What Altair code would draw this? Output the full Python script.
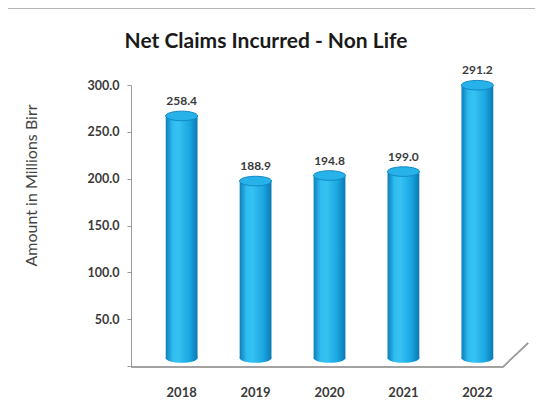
import altair as alt
import pandas as pd

chart_title = "Net Claims Incurred - Non Life"
years = ["2018", "2019", "2020", "2021", "2022"]
claims = [258.4, 188.9, 194.8, 199.0, 291.2]
y_ticks = [0, 50, 100, 150, 200, 250, 300]

df = pd.DataFrame({"year": years, "value": claims, "base": [0] * len(years)})
tdf = pd.DataFrame({"t": [chart_title]})

W, H = 397, 281
LIFT = -8

x_enc = alt.X("year:N", sort=years,
              scale=alt.Scale(paddingInner=0.57, paddingOuter=0.47),
              axis=alt.Axis(title=None, ticks=False, domain=False, labelAngle=0,
                            labelPadding=20, labelFont="Lato", labelFontSize=13,
                            labelFontWeight="bold", labelColor="#3a3a3a"))
y_scale = alt.Scale(domain=[0, 300], nice=False)

cyl = alt.Gradient(
    gradient="linear",
    stops=[
        alt.GradientStop(color="#0c7fbb", offset=0),
        alt.GradientStop(color="#2fbdf0", offset=0.22),
        alt.GradientStop(color="#36c2f2", offset=0.4),
        alt.GradientStop(color="#1aa6e0", offset=0.75),
        alt.GradientStop(color="#0b78b4", offset=1),
    ],
    x1=0, x2=1, y1=0, y2=0,
)

ellipse = "M -1 0 A 1 0.3 0 1 1 1 0 A 1 0.3 0 1 1 -1 0 Z"

base = alt.Chart(df)

bottom_cap = base.mark_point(shape=ellipse, size=1024, filled=True, fill=cyl,
                             opacity=1, yOffset=LIFT).encode(
    x=x_enc, y=alt.Y("base:Q", scale=y_scale))

bars = base.mark_bar(fill=cyl, yOffset=LIFT, y2Offset=LIFT).encode(
    x=x_enc,
    y=alt.Y("value:Q", scale=y_scale,
            axis=alt.Axis(values=y_ticks, grid=False, format=".1f",
                          labelExpr="datum.value == 0 ? '' : format(datum.value, '.1f')",
                          domainColor="#9a9a9a", tickColor="#9a9a9a", tickSize=4,
                          labelPadding=8, labelFont="Lato", labelFontSize=12.5,
                          labelFontWeight="bold", labelColor="#3a3a3a",
                          title="Amount in Millions Birr", titleFont="Lato",
                          titleFontSize=16, titleFontWeight="normal", titleColor="#444444",
                          titleX=-92, titleY=100, titleAngle=-90)),
    y2=alt.Y2("base:Q"),
)

top_cap = base.mark_point(shape=ellipse, size=1024, filled=True, fill="#27b2ea",
                          stroke="#1288c4", strokeWidth=1, opacity=1,
                          yOffset=LIFT).encode(
    x=x_enc, y=alt.Y("value:Q", scale=y_scale))

labels = base.mark_text(baseline="bottom", dy=-16, font="Lato", fontSize=12,
                        fontWeight="bold", color="#3a3a3a").encode(
    x=x_enc, y=alt.Y("value:Q", scale=y_scale),
    text=alt.Text("value:Q", format=".1f"))

title_mark = alt.Chart(tdf).mark_text(font="Lato", fontSize=21, fontWeight="bold",
                                      color="#1a1a1a", align="center",
                                      baseline="middle").encode(
    x=alt.value(135), y=alt.value(-43), text="t:N")

floor = alt.Chart(df).mark_rule(color="#a0a0a0", strokeWidth=1.2).encode(
    x=alt.value(0), x2=alt.value(372), y=alt.value(H + 1), y2=alt.value(H + 1))
diag = alt.Chart(df).mark_rule(color="#a0a0a0", strokeWidth=1.2).encode(
    x=alt.value(372), x2=alt.value(397), y=alt.value(H + 1), y2=alt.value(H - 23))

frame = alt.Chart(df).mark_rect(fill=None, stroke="#e2e2e2", strokeWidth=1).encode(
    x=alt.value(-124), x2=alt.value(406), y=alt.value(-77), y2=alt.value(319))
left_edge = alt.Chart(df).mark_rule(color="#a8a8a8", strokeWidth=2).encode(
    x=alt.value(-124), x2=alt.value(-124), y=alt.value(-77), y2=alt.value(319))
top_edge = alt.Chart(df).mark_rule(color="#b4b4b4", strokeWidth=2).encode(
    x=alt.value(-124), x2=alt.value(406), y=alt.value(-77), y2=alt.value(-77))

chart = alt.layer(frame, left_edge, top_edge, floor, diag, bottom_cap, bars, top_cap,
                  labels, title_mark).properties(
    width=W, height=H,
    autosize=alt.AutoSizeParams(type="none"),
    padding={"left": 123, "top": 77, "right": 7, "bottom": 32},
).configure_view(stroke=None)

chart.save("out.html", embed_options={"renderer": "svg", "actions": False})
